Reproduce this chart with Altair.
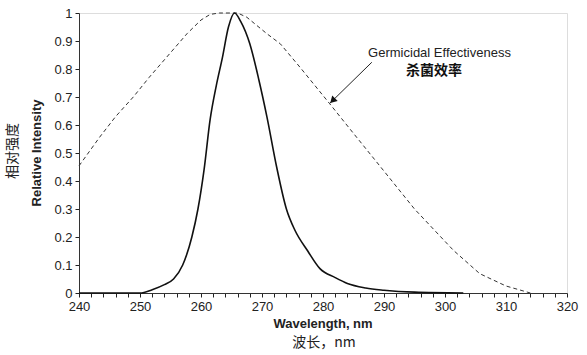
import altair as alt
import pandas as pd

# Lamp emission (solid line)
emit_x = [240, 250, 252, 254, 255.5, 257, 258.5, 259.5, 260.5, 261.5, 262.5, 263.5, 264.5, 265.5,
          266.5, 268, 269.5, 270.8, 272.4, 274, 275.4, 277.5, 279.5, 282, 284, 287, 290, 295, 303]
emit_y = [0, 0, 0.012, 0.03, 0.05, 0.1, 0.2, 0.3, 0.44, 0.62, 0.74, 0.84, 0.95, 1.0,
          0.97, 0.89, 0.76, 0.63, 0.45, 0.3, 0.224, 0.15, 0.087, 0.055, 0.034, 0.018, 0.01, 0.003, 0]

# Germicidal effectiveness (dashed line)
germ_x = [240, 243.4, 246, 248.9, 251.5, 254.4, 257.7, 260, 261.5, 263, 266, 267.5, 270.8, 273,
          276.2, 281.1, 285, 289.9, 295, 301.4, 305.7, 310, 314]
germ_y = [0.454, 0.557, 0.63, 0.70, 0.77, 0.843, 0.926, 0.975, 0.995, 1.0, 1.0, 0.985, 0.926, 0.89,
          0.807, 0.676, 0.57, 0.438, 0.30, 0.152, 0.069, 0.025, 0]

# Annotation
note_x = [299.1, 298.2]
note_y = [0.856, 0.792]
note_text = ["Germicidal Effectiveness", "杀菌效率"]
arrow_x = [288.0, 281.1]
arrow_y = [0.824, 0.677]
head_x = [281.7]
head_y = [0.690]

x_ticks = list(range(240, 321, 2))
y_ticks = [round(i * 0.1, 1) for i in range(11)]

FONT = "Liberation Sans"
CJK = "Noto Sans CJK SC"

emit = pd.DataFrame({"x": emit_x, "y": emit_y})
germ = pd.DataFrame({"x": germ_x, "y": germ_y})
notes = pd.DataFrame({"x": note_x, "y": note_y, "t": note_text})
arrow = pd.DataFrame({"x": arrow_x, "y": arrow_y})
head = pd.DataFrame({"x": head_x, "y": head_y})

xs = alt.Scale(domain=[240, 320], nice=False, zero=False)
ys = alt.Scale(domain=[0, 1], nice=False)

xax = alt.Axis(values=x_ticks, labelExpr="datum.value % 10 == 0 ? datum.label : ''",
               labelOverlap=False, title=None, grid=False, tickSize=4, labelPadding=3)
yax = alt.Axis(values=y_ticks,
               labelExpr="datum.value == 0 ? '0' : datum.value == 1 ? '1' : format(datum.value, '.1f')",
               labelOverlap=False, title=None, grid=False, tickSize=4, labelPadding=3)

X = alt.X("x:Q", scale=xs, axis=xax)
Y = alt.Y("y:Q", scale=ys, axis=yax)

germ_line = alt.Chart(germ).mark_line(color="#333", strokeWidth=1, strokeDash=[4, 3]).encode(
    x=X, y=Y)
emit_line = alt.Chart(emit).mark_line(color="#111", strokeWidth=1.6, interpolate="monotone").encode(
    x=X, y=Y)
arrow_line = alt.Chart(arrow).mark_line(color="#222", strokeWidth=1).encode(x=X, y=Y)
arrow_head = alt.Chart(head).mark_point(shape="triangle", filled=True, color="#111",
                                        size=60, angle=225, opacity=1).encode(x=X, y=Y)
note_en = alt.Chart(notes.iloc[[0]]).mark_text(font=FONT, fontSize=13, color="#222").encode(
    x=X, y=Y, text="t:N")
note_cn = alt.Chart(notes.iloc[[1]]).mark_text(font=CJK, fontSize=14, color="#111",
                                               fontWeight="bold").encode(
    x=X, y=Y, text="t:N")

titles = pd.DataFrame({"t": ["x"]})
t_yen = alt.Chart(titles).mark_text(text="Relative Intensity", font=FONT, fontSize=13,
                                     fontWeight="bold", angle=270, color="#222").encode(
    x=alt.value(-42), y=alt.value(140))
t_ycn = alt.Chart(titles).mark_text(text="相对强度", font=CJK, fontSize=14,
                                     angle=270, color="#222").encode(
    x=alt.value(-66), y=alt.value(138))
t_xen = alt.Chart(titles).mark_text(text="Wavelength, nm", font=FONT, fontSize=13,
                                     fontWeight="bold", color="#222").encode(
    x=alt.value(244), y=alt.value(311))
t_xcn = alt.Chart(titles).mark_text(text="波长，nm", font=CJK, fontSize=14,
                                     color="#222").encode(
    x=alt.value(245), y=alt.value(330))

chart = alt.layer(germ_line, emit_line, arrow_line, arrow_head, note_en, note_cn,
                  t_yen, t_ycn, t_xen, t_xcn).properties(
    width=488, height=280,
    autosize=alt.AutoSizeParams(type="none"),
    padding={"left": 79, "top": 13, "right": 20, "bottom": 62},
).configure_view(stroke=None).configure(background="white").configure_axis(
    labelFont=FONT, labelFontSize=13, labelColor="#222", domainColor="#333",
    tickColor="#222", tickWidth=1, domainWidth=1,
    labelOverlap=False, labelBound=False, labelFlush=False
)

chart.save("out.html", embed_options={"renderer": "svg", "actions": False})
